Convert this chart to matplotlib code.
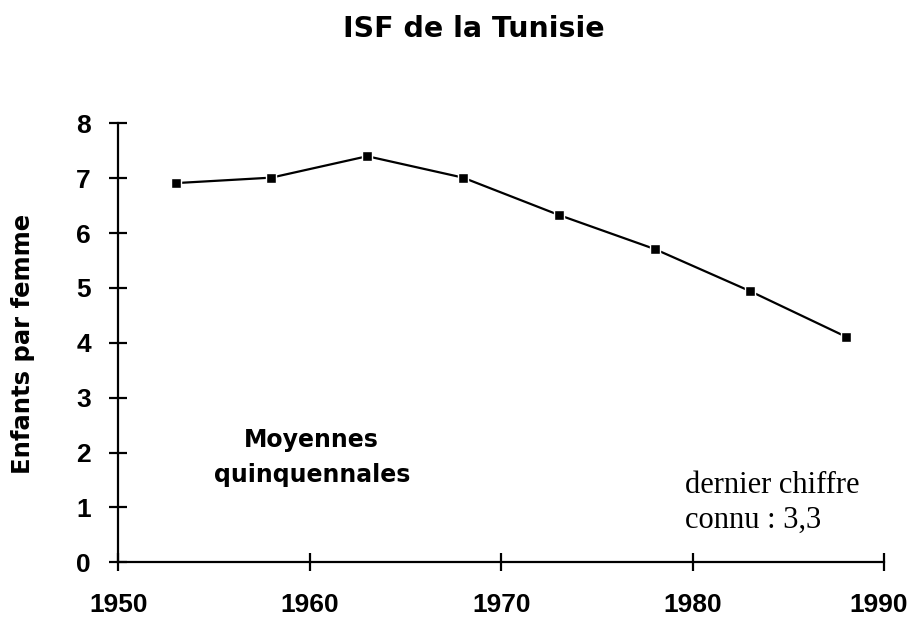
import matplotlib
matplotlib.use("Agg")
import matplotlib.pyplot as plt
import matplotlib.transforms as mtransforms

years = [1953, 1958, 1963, 1968, 1973, 1978, 1983, 1988]
isf = [6.91, 7.01, 7.40, 7.01, 6.33, 5.71, 4.94, 4.11]
xticks = [1950, 1960, 1970, 1980, 1990]
yticks = [0, 1, 2, 3, 4, 5, 6, 7, 8]

SANS_WIDE = ['DejaVu Sans']
SANS = ['Liberation Sans', 'DejaVu Sans']
SERIF = ['Liberation Serif', 'DejaVu Serif']

fig = plt.figure(figsize=(9.07, 6.18), dpi=100)
ax = fig.add_axes([0.1304, 0.0901, 0.8446, 0.7104])

ax.plot(years, isf, color='black', lw=1.6, marker='s', markersize=7.5,
        markerfacecolor='black', markeredgecolor='white', markeredgewidth=1.0)

ax.set_xlim(1950, 1990)
ax.set_ylim(0, 8)
ax.set_xticks(xticks)
ax.set_yticks(yticks)
for s in ['top', 'right']:
    ax.spines[s].set_visible(False)
for s in ['left', 'bottom']:
    ax.spines[s].set_linewidth(1.6)
ax.tick_params(axis='both', direction='inout', length=13.5, width=1.6)
ax.tick_params(axis='x', pad=15.5)
ax.tick_params(axis='y', pad=13)
for lbl in ax.get_xticklabels() + ax.get_yticklabels():
    lbl.set_fontweight('bold')
    lbl.set_fontfamily(SANS)
    lbl.set_fontsize(19)
# keep the last x label inside the figure
last = ax.get_xticklabels()[-1]
last.set_transform(last.get_transform() +
                   mtransforms.ScaledTranslation(-6 / 100, 0, fig.dpi_scale_trans))

fig.text(0.522, 0.9406, 'ISF de la Tunisie', ha='center', va='baseline',
         fontsize=20.5, fontweight='bold', family=SANS_WIDE)
fig.text(0.025, 0.444, 'Enfants par femme', ha='center', va='center',
         rotation=90, fontsize=17.5, fontweight='bold', family=SANS_WIDE)

ax.text(1960.1, 2.11, 'Moyennes', ha='center', va='baseline',
        fontsize=17, fontweight='bold', family=SANS_WIDE)
ax.text(1960.1, 1.47, 'quinquennales', ha='center', va='baseline',
        fontsize=17, fontweight='bold', family=SANS_WIDE)
ax.text(1979.6, 1.26, 'dernier chiffre', ha='left', va='baseline',
        fontsize=22, family=SERIF)
ax.text(1979.6, 0.625, 'connu : 3,3', ha='left', va='baseline',
        fontsize=22, family=SERIF)

fig.savefig('out.png', dpi=100)
